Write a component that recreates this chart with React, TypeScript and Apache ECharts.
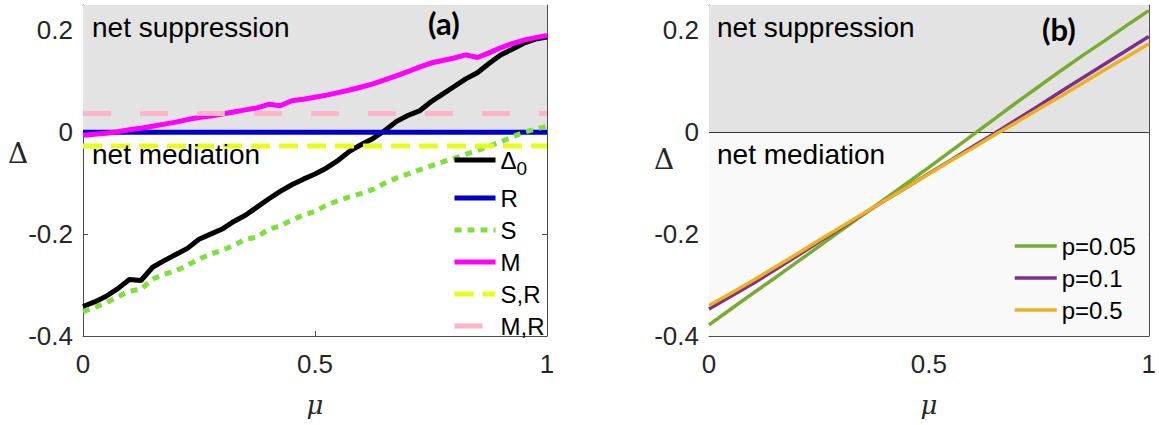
import React, { useEffect, useRef } from 'react';
import * as echarts from 'echarts';

// ---------- data: panel (a) ----------
const muFine = [
  0, 0.025, 0.05, 0.075, 0.1, 0.125, 0.15, 0.175, 0.2, 0.225, 0.25, 0.275, 0.3, 0.325,
  0.35, 0.375, 0.4, 0.425, 0.45, 0.475, 0.5, 0.525, 0.55, 0.575, 0.6, 0.625, 0.65, 0.675,
  0.7, 0.725, 0.75, 0.775, 0.8, 0.825, 0.85, 0.875, 0.9, 0.925, 0.95, 0.975, 1,
];
const delta0 = [
  -0.342, -0.333, -0.322, -0.307, -0.289, -0.291, -0.265, -0.252, -0.24, -0.228, -0.21,
  -0.2, -0.19, -0.175, -0.163, -0.147, -0.131, -0.116, -0.103, -0.092, -0.082, -0.07,
  -0.055, -0.037, -0.024, -0.012, 0.003, 0.021, 0.033, 0.042, 0.06, 0.075, 0.09, 0.105,
  0.117, 0.135, 0.152, 0.163, 0.175, 0.183, 0.187,
];
const seriesM = [
  -0.006, -0.004, -0.002, 0.001, 0.005, 0.008, 0.012, 0.016, 0.02, 0.025, 0.029, 0.032,
  0.036, 0.04, 0.044, 0.048, 0.055, 0.052, 0.062, 0.065, 0.069, 0.073, 0.078, 0.083,
  0.089, 0.095, 0.103, 0.111, 0.119, 0.128, 0.136, 0.141, 0.146, 0.152, 0.147, 0.156,
  0.166, 0.174, 0.181, 0.186, 0.19,
];
const seriesS = [
  -0.352, -0.344, -0.335, -0.323, -0.312, -0.308, -0.288, -0.279, -0.272, -0.261, -0.249,
  -0.239, -0.232, -0.222, -0.21, -0.206, -0.19, -0.184, -0.172, -0.163, -0.155, -0.143,
  -0.134, -0.127, -0.12, -0.112, -0.1, -0.09, -0.082, -0.074, -0.066, -0.058, -0.051,
  -0.043, -0.036, -0.027, -0.019, -0.009, 0.0, 0.006, 0.012,
];
const muEnds = [0, 1];
const seriesR = [0, 0];
const seriesSR = [-0.027, -0.027];
const seriesMR = [0.037, 0.037];

// ---------- data: panel (b) ----------
const muCoarse = [
  0, 0.05, 0.1, 0.15, 0.2, 0.25, 0.3, 0.35, 0.4, 0.45, 0.5, 0.55, 0.6, 0.65, 0.7, 0.75,
  0.8, 0.85, 0.9, 0.95, 1,
];
const p005 = [
  -0.378, -0.347, -0.316, -0.286, -0.255, -0.224, -0.193, -0.162, -0.131, -0.1, -0.069,
  -0.037, -0.005, 0.027, 0.059, 0.09, 0.121, 0.151, 0.18, 0.21, 0.239,
];
const p01 = [
  -0.347, -0.322, -0.297, -0.27, -0.243, -0.215, -0.188, -0.161, -0.134, -0.108, -0.081,
  -0.055, -0.028, -0.002, 0.025, 0.052, 0.08, 0.107, 0.134, 0.161, 0.188,
];
const p05 = [
  -0.34, -0.316, -0.291, -0.265, -0.239, -0.212, -0.186, -0.16, -0.134, -0.108, -0.082,
  -0.056, -0.031, -0.005, 0.02, 0.046, 0.071, 0.097, 0.123, 0.148, 0.174,
];

const legendA = ['Δ0', 'R', 'S', 'M', 'S,R', 'M,R'];
const legendB = ['p=0.05', 'p=0.1', 'p=0.5'];

const FONT = 'Liberation Sans';
const AXIS = '#4d4d4d';
const TXT = '#262626';

const zip = (xs: number[], ys: number[]) => xs.map((x, i) => [x, ys[i]]);

function xAxes(gridIndex: number) {
  const base = {
    gridIndex,
    type: 'value' as const,
    min: 0,
    max: 1,
    interval: 0.5,
    splitLine: { show: false },
    axisLine: { show: true, onZero: false, lineStyle: { color: AXIS, width: 1 } },
    axisTick: { show: true, inside: true, length: 5, lineStyle: { color: AXIS } },
  };
  return [
    {
      ...base,
      position: 'bottom',
      axisLabel: { fontSize: 26, color: TXT, fontFamily: FONT, margin: 15 },
      name: 'μ',
      nameLocation: 'middle',
      nameGap: 56,
      nameTextStyle: { fontSize: 26, color: TXT, fontFamily: 'DejaVu Serif', fontStyle: 'italic' },
    },
    { ...base, position: 'top', axisLabel: { show: false } },
  ];
}

function yAxes(gridIndex: number) {
  const base = {
    gridIndex,
    type: 'value' as const,
    min: -0.4,
    max: 0.25,
    interval: 0.2,
    splitLine: { show: false },
    axisLine: { show: true, onZero: false, lineStyle: { color: AXIS, width: 1 } },
    axisTick: { show: true, inside: true, length: 5, lineStyle: { color: AXIS } },
  };
  return [
    {
      ...base,
      position: 'left',
      axisLabel: { fontSize: 26, color: TXT, fontFamily: FONT, margin: 10, showMaxLabel: false },
    },
    { ...base, position: 'right', axisLabel: { show: false } },
  ];
}

export default function App() {
  const ref = useRef<HTMLDivElement>(null);
  useEffect(() => {
    if (!ref.current) return;
    const chart = echarts.init(ref.current, undefined, { renderer: 'svg' });
    const lineA = (name: string, xs: number[], ys: number[], color: string, type: any) => ({
      name,
      type: 'line',
      xAxisIndex: 0,
      yAxisIndex: 0,
      data: zip(xs, ys),
      symbol: 'none',
      lineStyle: { color, width: 5, type, cap: 'butt' },
      itemStyle: { color },
    });
    const lineB = (name: string, ys: number[], color: string) => ({
      name,
      type: 'line',
      xAxisIndex: 2,
      yAxisIndex: 2,
      data: zip(muCoarse, ys),
      symbol: 'none',
      lineStyle: { color, width: 3.5 },
      itemStyle: { color },
    });
    const legendText = {
      fontSize: 24,
      color: '#000',
      fontFamily: FONT,
      lineHeight: 24,
      rich: {
        d: { fontSize: 24, fontFamily: FONT, lineHeight: 36, color: '#000' },
        s: { fontSize: 19, fontFamily: FONT, lineHeight: 2, verticalAlign: 'bottom', color: '#000' },
      },
    };
    const sD = lineA('Δ0', muFine, delta0, '#000000', 'solid');
    (sD as any).markArea = {
      silent: true,
      itemStyle: { color: '#e3e3e3' },
      data: [[{ coord: [0, 0] }, { coord: [1, 0.25] }]],
    };
    const sB1 = lineB('p=0.05', p005, '#77ac30');
    (sB1 as any).markArea = {
      silent: true,
      data: [
        [{ coord: [0, 0], itemStyle: { color: '#e3e3e3' } }, { coord: [1, 0.25] }],
        [{ coord: [0, -0.4], itemStyle: { color: '#f9f9f9' } }, { coord: [1, 0] }],
      ],
    };
    (sB1 as any).markLine = {
      silent: true,
      symbol: 'none',
      label: { show: false },
      lineStyle: { color: '#333', width: 1, type: 'solid' },
      data: [{ yAxis: 0 }],
      z: 1,
    };
    const T = (text: string, left: number, top: number, extra: any = {}) => ({
      type: 'text',
      left,
      top,
      z: 100,
      style: { text, fontSize: 28, fontFamily: FONT, fill: '#000', ...extra },
    });
    const option: any = {
      animation: false,
      backgroundColor: '#fff',
      grid: [
        { left: 83, top: 5, width: 464, height: 331 },
        { left: 709, top: 5, width: 440, height: 331 },
      ],
      xAxis: [...xAxes(0), ...xAxes(1)],
      yAxis: [...yAxes(0), ...yAxes(1)],
      legend: [
        {
          orient: 'vertical',
          left: 447,
          top: 137,
          itemWidth: 41,
          itemHeight: 14,
          itemGap: 8,
          selectedMode: false,
          data: legendA,
          itemStyle: { opacity: 0 },
          lineStyle: { width: 5 },
          textStyle: legendText,
          formatter: (n: string) => (n === 'Δ0' ? '{d|Δ}{s|0}' : n),
        },
        {
          orient: 'vertical',
          left: 1008,
          top: 229,
          itemWidth: 42,
          itemHeight: 14,
          itemGap: 8,
          selectedMode: false,
          data: legendB,
          itemStyle: { opacity: 0 },
          lineStyle: { width: 3.5 },
          textStyle: { fontSize: 24, color: '#000', fontFamily: FONT, lineHeight: 24 },
        },
      ],
      series: [
        sD,
        lineA('R', muEnds, seriesR, '#0000c8', 'solid'),
        lineA('S', muFine, seriesS, '#7ee03a', [7, 6]),
        lineA('M', muFine, seriesM, '#ff00ff', 'solid'),
        lineA('S,R', muEnds, seriesSR, '#e6ff1a', [19, 9]),
        lineA('M,R', muEnds, seriesMR, '#ffb3c8', [28, 29]),
        sB1,
        lineB('p=0.1', p01, '#7e2f8e'),
        lineB('p=0.5', p05, '#edb120'),
      ],
      graphic: [
        T('net suppression', 92, 13),
        T('net mediation', 92, 140),
        T('net suppression', 717, 13),
        T('net mediation', 717, 140),
        T('(a)', 428, 7, { fontSize: 31, fontWeight: 'bold', fontFamily: 'Lato' }),
        T('(b)', 1042, 13, { fontSize: 31, fontWeight: 'bold', fontFamily: 'Lato' }),
        T('Δ', 8, 139, { fontSize: 28, fontFamily: 'DejaVu Serif', fill: TXT }),
        T('Δ', 654, 145, { fontSize: 28, fontFamily: 'DejaVu Serif', fill: TXT }),
      ],
    };
    chart.setOption(option);
    return () => chart.dispose();
  }, []);
  return (
    <div
      ref={ref}
      style={{ position: 'absolute', left: 0, top: 0, width: 1159, height: 425 }}
    />
  );
}
